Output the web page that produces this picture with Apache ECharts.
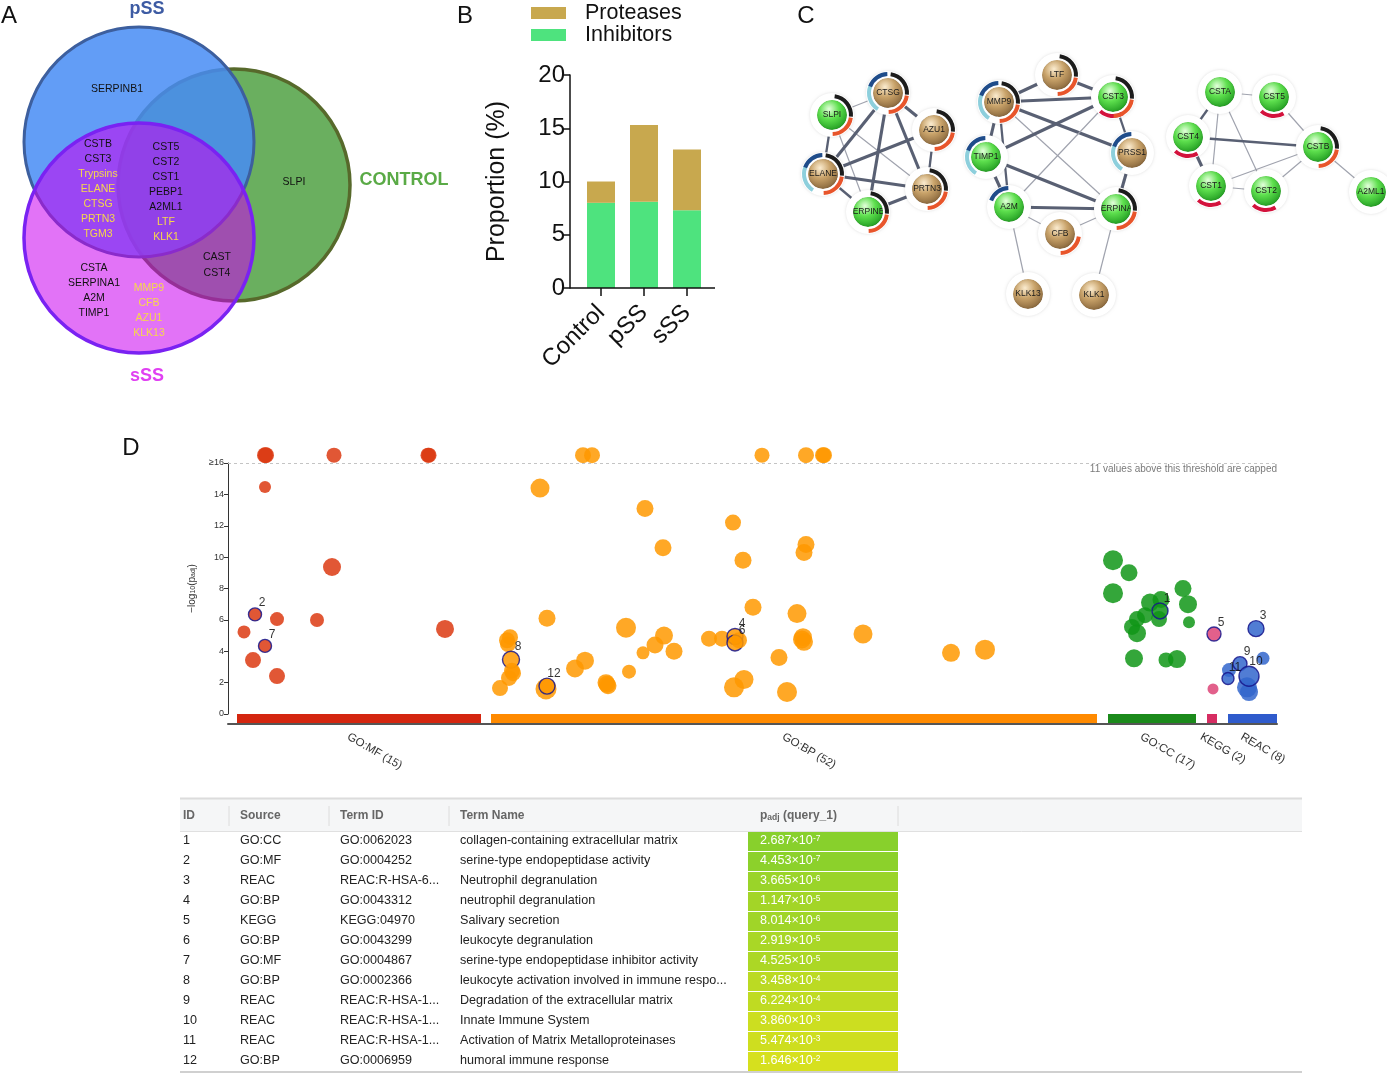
<!DOCTYPE html>
<html><head><meta charset="utf-8">
<script src="https://cdn.jsdelivr.net/npm/echarts@6/dist/echarts.min.js"></script>
<style>html,body{margin:0;padding:0;background:#fff}#c{width:1387px;height:1074px}</style>
</head><body><div id="c"></div><script>
// ================= DATA =================
// Panel A – Venn membership
const vennPSSOnly = ['SERPINB1'];
const vennControlOnly = ['SLPI'];
const vennPSS_SSS = ['CSTB','CST3','Trypsins','ELANE','CTSG','PRTN3','TGM3'];
const vennAllThree = ['CST5','CST2','CST1','PEBP1','A2ML1','LTF','KLK1'];
const vennSSS_Control = ['CAST','CST4'];
const vennSSSOnly = ['CSTA','SERPINA1','A2M','TIMP1','MMP9','CFB','AZU1','KLK13'];
const proteaseGenes = ['Trypsins','ELANE','CTSG','PRTN3','TGM3','LTF','KLK1','MMP9','CFB','AZU1','KLK13','PRSS1'];

// Panel B – stacked bars
const barCategories = ['Control','pSS','sSS'];
const inhibitorValues = [8.0, 8.1, 7.3];
const proteaseValues = [2.0, 7.2, 5.7];

// Panel C – network
const netNodes = ['SLPI','CTSG','AZU1','ELANE','PRTN3','SERPINB1','MMP9','LTF','CST3','TIMP1','PRSS1','A2M','SERPINA1','CFB','KLK13','KLK1','CSTA','CST5','CST4','CSTB','CST1','CST2','A2ML1'];
const netEdges = [
 ['SLPI','CTSG',1],['SLPI','ELANE',2],['SLPI','PRTN3',1],['SLPI','SERPINB1',1],
 ['CTSG','ELANE',3],['CTSG','AZU1',3],['CTSG','PRTN3',3],['CTSG','SERPINB1',3],
 ['AZU1','ELANE',3],['AZU1','PRTN3',2],['ELANE','PRTN3',3],['ELANE','SERPINB1',2],['PRTN3','SERPINB1',3],
 ['MMP9','LTF',3],['MMP9','CST3',3],['MMP9','TIMP1',3],['MMP9','A2M',2],['MMP9','PRSS1',3],['MMP9','SERPINA1',1],
 ['LTF','CST3',3],['CST3','TIMP1',3],['CST3','PRSS1',2],['CST3','A2M',1],
 ['TIMP1','A2M',3],['TIMP1','SERPINA1',3],['PRSS1','SERPINA1',3],
 ['A2M','SERPINA1',3],['A2M','CFB',1],['A2M','KLK13',1],['SERPINA1','CFB',1],['SERPINA1','KLK1',1],
 ['CSTA','CST5',1],['CSTA','CST4',2],['CSTA','CST1',1],['CSTA','CST2',1],['CST5','CSTB',1],
 ['CST4','CSTB',2],['CST4','CST1',3],['CST1','CST2',1],['CST1','CSTB',1],['CST2','CSTB',1],['CSTB','A2ML1',1]
];
const netNodeRings = {SLPI:'KO',CTSG:'LBKO',AZU1:'KO',ELANE:'LBKO',PRTN3:'KO',SERPINB1:'KO',MMP9:'LBKO',LTF:'KO',CST3:'KRO',
 TIMP1:'LB',PRSS1:'LB',A2M:'B',SERPINA1:'KO',CFB:'O',KLK13:'',KLK1:'',CSTA:'',CST5:'R',CST4:'R',CSTB:'KO',CST1:'R',CST2:'R',A2ML1:''};

// Panel D – Manhattan plot points: [position, -log10(padj), term size, highlight id]
const CAPPED = 16.5;
const goMF = [[265,CAPPED,16,0],[266,CAPPED,16,0],[334,CAPPED,15,0],[428,CAPPED,15,0],[429,CAPPED,15,0],
 [265,14.47,12,0],[332,9.37,18,0],[255,6.35,13,2],[277,6.05,14,0],[317,5.99,14,0],[244,5.23,13,0],[445,5.42,18,0],[265,4.34,13,7],[253,3.44,16,0],[277,2.42,16,0]];
const goBP = [[583,CAPPED,16,0],[592,CAPPED,16,0],[762,CAPPED,15,0],[806,CAPPED,16,0],[823,CAPPED,16,0],[824,CAPPED,16,0],
 [540,14.4,19,0],[645,13.1,17,0],[733,12.2,16,0],[663,10.6,17,0],[743,9.8,17,0],[806,10.8,17,0],[804,10.3,17,0],[753,6.8,17,0],
 [547,6.1,17,0],[797,6.4,19,0],[626,5.5,20,0],[510,4.9,16,0],[508,4.45,16,0],[511,3.46,17,8],[512,2.75,16,0],[509,2.3,16,0],
 [500,1.65,16,0],[664,5.0,18,0],[655,4.4,17,0],[674,4.0,17,0],[643,3.9,13,0],[709,4.8,16,0],[722,4.8,16,0],[735,4.94,16,4],
 [735,4.53,16,6],[779,3.6,17,0],[585,3.4,18,0],[575,2.9,18,0],[629,2.7,14,0],[606,2.0,17,0],[608,1.8,17,0],[546,1.6,21,0],
 [547,1.78,16,12],[734,1.7,20,0],[744,2.2,19,0],[787,1.4,20,0],[803,4.9,18,0],[804,4.6,18,0],[863,5.1,19,0],[951,3.9,18,0],
 [985,4.1,20,0],[507,4.7,16,0],[513,2.6,16,0],[739,4.7,16,0],[802,4.75,18,0],[607,1.9,17,0]];
const goCC = [[1113,9.8,20,0],[1129,9.0,17,0],[1113,7.7,20,0],[1183,8.0,17,0],[1188,7.0,18,0],[1150,7.1,18,0],[1161,7.3,17,0],
 [1159,6.05,16,0],[1145,6.3,16,0],[1137,6.05,16,0],[1132,5.55,16,0],[1137,5.15,18,0],[1189,5.85,12,0],[1134,3.55,18,0],
 [1166,3.45,15,0],[1177,3.5,18,0],[1160,6.57,16,1]];
const kegg = [[1213,1.6,11,0],[1214,5.10,14,5]];
const reac = [[1229,2.8,14,0],[1247,1.7,20,0],[1249,1.4,18,0],[1263,3.55,13,0],[1256,5.44,16,3],[1240,3.21,14,9],[1249,2.41,20,10],[1228,2.26,12,11]];
const sourceNames = ['GO:MF','GO:BP','GO:CC','KEGG','REAC'];
const sourceCounts = [15,52,17,2,8];
const sourceStart = [237,491,1108,1207,1228];
const sourceEnd = [481,1097,1196,1217,1277];
const yTickLabels = ['0','2','4','6','8','10','12','14','≥16'];

// Table
const tableIds = [1,2,3,4,5,6,7,8,9,10,11,12];
const tableSources = ['GO:CC','GO:MF','REAC','GO:BP','KEGG','GO:BP','GO:MF','GO:BP','REAC','REAC','REAC','GO:BP'];
const tableTermIds = ['GO:0062023','GO:0004252','REAC:R-HSA-6...','GO:0043312','KEGG:04970','GO:0043299','GO:0004867','GO:0002366','REAC:R-HSA-1...','REAC:R-HSA-1...','REAC:R-HSA-1...','GO:0006959'];
const tableTermNames = ['collagen-containing extracellular matrix','serine-type endopeptidase activity','Neutrophil degranulation','neutrophil degranulation','Salivary secretion','leukocyte degranulation','serine-type endopeptidase inhibitor activity','leukocyte activation involved in immune respo...','Degradation of the extracellular matrix','Innate Immune System','Activation of Matrix Metalloproteinases','humoral immune response'];
const tablePMantissa = ['2.687','4.453','3.665','1.147','8.014','2.919','4.525','3.458','6.224','3.860','5.474','1.646'];
const tablePExponent = [-7,-7,-6,-5,-6,-5,-5,-4,-4,-3,-3,-2];

// ================= STYLE / LAYOUT =================
const FONT = 'Liberation Sans, Arial, sans-serif';
const sourceColors = ['#dc3912','#ff9900','#109618','#dd4477','#3366cc'];
const sourceBarColors = ['#d4260f','#ff8a00','#1b8a1b','#d62d62','#2f5bcc'];
const protColor = '#c8a84e', inhColor = '#4ee37e';
const ringDefs = {K:{s:8,e:95,c:'#1c1c1c'},O:{s:98,e:178,c:'#e8552b'},R:{s:150,e:222,c:'#d3123c'},B:{s:290,e:358,c:'#1f4c8a'},L:{s:212,e:292,c:'#8dcfdc'}};
const netLayout = {SLPI:[832,115],CTSG:[888,93],AZU1:[934,130],ELANE:[823,174],PRTN3:[927,189],SERPINB1:[868,212],
 MMP9:[999,102],LTF:[1057,75],CST3:[1113,97],TIMP1:[986,157],PRSS1:[1132,153],A2M:[1009,207],SERPINA1:[1116,209],CFB:[1060,234],KLK13:[1028,294],KLK1:[1094,295],
 CSTA:[1220,92],CST5:[1274,97],CST4:[1188,137],CSTB:[1318,147],CST1:[1211,186],CST2:[1266,191],A2ML1:[1371,192]};
const greenGrad = {type:'radial',x:0.4,y:0.3,r:0.75,colorStops:[{offset:0,color:'#e4ffdc'},{offset:0.45,color:'#5ee04e'},{offset:1,color:'#1f9a20'}]};
const tanGrad = {type:'radial',x:0.4,y:0.3,r:0.75,colorStops:[{offset:0,color:'#fbecd0'},{offset:0.45,color:'#c9a36a'},{offset:1,color:'#86643a'}]};

const graphics = [];
function txt(x, y, text, st, z) {
  graphics.push({type:'text', x:x, y:y, z:z||20, silent:true,
    style:Object.assign({text:text, align:'center', verticalAlign:'middle', fill:'#111', font:'10.5px ' + FONT}, st||{})});
}
// panel letters
txt(9,16,'A',{font:'24px '+FONT}); txt(465,16,'B',{font:'24px '+FONT});
txt(806,16,'C',{font:'24px '+FONT}); txt(131,448,'D',{font:'24px '+FONT});

// Venn circles
const vennCircles = [
  {cx:234,cy:185,r:116,fill:'rgb(106,175,95)',stroke:'#57692b',lw:3.5},
  {cx:139,cy:142,r:115,fill:'rgba(70,140,245,0.85)',stroke:'#3d5f9e',lw:3},
  {cx:139,cy:238,r:115,fill:'rgba(202,0,240,0.55)',stroke:'#7a22f2',lw:3.5}
];
vennCircles.forEach((c,i)=>graphics.push({type:'circle',z:1+i,silent:true,shape:{cx:c.cx,cy:c.cy,r:c.r},style:{fill:c.fill,stroke:c.stroke,lineWidth:c.lw}}));
txt(147,9,'pSS',{font:'bold 18px '+FONT,fill:'#3d5ba3'});
txt(404,180,'CONTROL',{font:'bold 18px '+FONT,fill:'#5aaa46'});
txt(147,376,'sSS',{font:'bold 18px '+FONT,fill:'#e040f2'});
function vennColumn(list, x, y, dy) {
  list.forEach((g,i)=>txt(x, y+i*dy, g, {fill: proteaseGenes.includes(g) ? '#f7d84a' : '#111'}));
}
vennColumn(vennPSSOnly,117,89,15);
vennColumn(vennControlOnly,294,182,15);
vennColumn(vennPSS_SSS,98,144,15);
vennColumn(vennAllThree,166,147,15);
vennColumn(vennSSS_Control,217,257,16);
vennColumn(vennSSSOnly.filter(g=>!proteaseGenes.includes(g)),94,268,15);
vennColumn(vennSSSOnly.filter(g=>proteaseGenes.includes(g)),149,288,15);

// bar chart x axis line
graphics.push({type:'line',z:5,silent:true,shape:{x1:570,y1:288,x2:715,y2:288},style:{stroke:'#111',lineWidth:1.5}});

// capped note
txt(1277,469,'11 values above this threshold are capped',{align:'right',fill:'#7a7a7a',font:'10px '+FONT});

// Table
const TF = '12.6px ' + FONT;
const colX = [183,240,340,460,760];
const sepX = [229,329,449,898];
graphics.push({type:'rect',z:1,silent:true,shape:{x:180,y:799,width:1122,height:33},style:{fill:'#f5f6f7'}});
graphics.push({type:'line',z:2,silent:true,shape:{x1:180,y1:798.5,x2:1302,y2:798.5},style:{stroke:'#dcdcdc',lineWidth:2}});
graphics.push({type:'line',z:2,silent:true,shape:{x1:180,y1:831.5,x2:1302,y2:831.5},style:{stroke:'#e0e0e0',lineWidth:1}});
graphics.push({type:'line',z:2,silent:true,shape:{x1:180,y1:1072,x2:1302,y2:1072},style:{stroke:'#d0d0d0',lineWidth:2}});
sepX.forEach(x=>graphics.push({type:'line',z:2,silent:true,shape:{x1:x,y1:806,x2:x,y2:826},style:{stroke:'#dcdcdc',lineWidth:1}}));
const hdrStyle = {align:'left',fill:'#666',font:'bold 12px '+FONT};
txt(colX[0],816,'ID',hdrStyle); txt(colX[1],816,'Source',hdrStyle); txt(colX[2],816,'Term ID',hdrStyle); txt(colX[3],816,'Term Name',hdrStyle);
txt(colX[4],816,'{a|p}{s|adj}{a| (query_1)}',{align:'left',fill:'#666',rich:{a:{fontSize:12,fontWeight:'bold',fontFamily:FONT,fill:'#666'},s:{fontSize:8.5,fontWeight:'bold',fontFamily:FONT,fill:'#666',verticalAlign:'bottom'}}});
const nlp = tablePExponent.map((e,i)=>-(Math.log10(parseFloat(tablePMantissa[i]))+e));
const nlpMax = Math.max(...nlp), nlpMin = Math.min(...nlp);
const cStrong = [136,208,44], cWeak = [214,224,30];
tableIds.forEach((id,i)=>{
  const y = 841 + i*20;
  const t = (nlpMax - nlp[i])/(nlpMax - nlpMin);
  const col = cStrong.map((v,k)=>Math.round(v + (cWeak[k]-v)*t));
  graphics.push({type:'rect',z:2,silent:true,shape:{x:748,y:832+i*20,width:150,height:19},style:{fill:'rgb('+col.join(',')+')'}});
  const rs = {align:'left',fill:'#222',font:TF};
  txt(colX[0],y,String(id),rs); txt(colX[1],y,tableSources[i],rs); txt(colX[2],y,tableTermIds[i],rs); txt(colX[3],y,tableTermNames[i],rs);
  txt(colX[4],y,'{a|'+tablePMantissa[i]+'×10}{e|'+tablePExponent[i]+'}',{align:'left',rich:{a:{fontSize:12.6,fontFamily:FONT,fill:'#fff'},e:{fontSize:8.5,fontFamily:FONT,fill:'#fff',verticalAlign:'top'}}});
});

// ================= CHART =================
function pointItem(p){
  const it = {value:[p[0],p[1]], symbolSize:p[2]};
  if (p[3]) { it.itemStyle = {borderColor:'#17168c', borderWidth:1.4}; it.label = {show:true, formatter:String(p[3])}; }
  return it;
}
const sourceData = [goMF, goBP, goCC, kegg, reac];
const scatterSeries = sourceData.map((pts,i)=>({
  type:'scatter', name:sourceNames[i], xAxisIndex:1, yAxisIndex:1, clip:false, z:3,
  data: pts.map(pointItem),
  itemStyle:{color:sourceColors[i], opacity:0.85},
  label:{show:false, position:'top', distance:0, offset:[7,2], color:'#111', fontSize:12, fontFamily:FONT},
  emphasis:{disabled:true},
  markLine: i===0 ? {silent:true, symbol:'none', data:[{yAxis:16}], label:{show:false}, lineStyle:{type:[3,3], color:'#c4c4c4', width:1}} : undefined
}));

const option = {
  animation:false,
  textStyle:{fontFamily:FONT},
  legend:{data:['Proteases','Inhibitors'], orient:'vertical', left:526, top:-3, itemWidth:35, itemHeight:12, itemGap:0,
    selectedMode:false, icon:'rect', textStyle:{fontSize:21.5, color:'#111', lineHeight:19, padding:[0,0,0,14]}},
  grid:[
    {left:579.5, top:75, width:129, height:213},
    {left:228, top:463, width:1049, height:251},
    {left:0, top:0, width:1387, height:1074}
  ],
  xAxis:[
    {gridIndex:0, type:'category', data:barCategories, axisLine:{show:false},
     axisTick:{show:true, alignWithLabel:true, length:8, lineStyle:{color:'#111', width:1.5}},
     axisLabel:{rotate:45, fontSize:24, color:'#111', margin:21, interval:0}},
    {gridIndex:1, type:'value', min:228, max:1277, offset:10, axisLine:{show:true, onZero:false, lineStyle:{color:'#555', width:2}},
     axisTick:{show:false}, axisLabel:{show:false}, splitLine:{show:false}},
    {gridIndex:2, type:'value', min:0, max:1387, show:false}
  ],
  yAxis:[
    {gridIndex:0, type:'value', min:0, max:20, interval:5, offset:9.5,
     axisLine:{show:true, onZero:false, lineStyle:{color:'#111', width:1.5}}, axisTick:{show:true, length:8, lineStyle:{color:'#111', width:1.5}},
     axisLabel:{fontSize:24, color:'#111', margin:5}, splitLine:{show:false},
     name:'Proportion (%)', nameLocation:'middle', nameRotate:90, nameGap:60, nameTextStyle:{fontSize:25, color:'#111'}},
    {gridIndex:1, type:'value', min:0, max:16, interval:2,
     axisLine:{show:true, onZero:false, lineStyle:{color:'#333', width:1}}, axisTick:{show:true, length:4, lineStyle:{color:'#333'}},
     axisLabel:{fontSize:9, color:'#333', margin:4, formatter:(v)=>yTickLabels[v/2]}, splitLine:{show:false},
     name:'{n|−log}{s|10}{n|(p}{s|adj}{n|)}', nameLocation:'middle', nameRotate:90, nameGap:31,
     nameTextStyle:{rich:{n:{fontSize:10, color:'#333', fontFamily:FONT}, s:{fontSize:7, color:'#333', fontFamily:FONT, verticalAlign:'bottom'}}}},
    {gridIndex:2, type:'value', min:0, max:1074, inverse:true, show:false}
  ],
  series:[
    {type:'bar', name:'Inhibitors', stack:'p', data:inhibitorValues, xAxisIndex:0, yAxisIndex:0, barWidth:28, itemStyle:{color:inhColor}, emphasis:{disabled:true}},
    {type:'bar', name:'Proteases', stack:'p', data:proteaseValues, xAxisIndex:0, yAxisIndex:0, barWidth:28, itemStyle:{color:protColor}, emphasis:{disabled:true}},
    ...scatterSeries,
    {type:'custom', xAxisIndex:1, yAxisIndex:1, z:2, silent:true,
     data: sourceNames.map((s,i)=>[sourceStart[i], sourceEnd[i], i]),
     encode:{x:[0,1]},
     renderItem:(params, api)=>{
       const i = api.value(2);
       const p0 = api.coord([api.value(0), 0]);
       const p1 = api.coord([api.value(1), 0]);
       return {type:'group', children:[
         {type:'rect', shape:{x:p0[0], y:p0[1], width:p1[0]-p0[0], height:9}, style:{fill:sourceBarColors[i]}},
         {type:'text', x:(p0[0]+p1[0])/2 - 11, y:p0[1]+22, rotation:-Math.PI/6,
          style:{text:sourceNames[i]+' ('+sourceCounts[i]+')', fill:'#333', font:'11.5px '+FONT, align:'left', verticalAlign:'middle'}}
       ]};
     }},
    {type:'graph', coordinateSystem:'cartesian2d', xAxisIndex:2, yAxisIndex:2, z:3, symbolSize:30,
     data: netNodes.map(n=>({name:n, value:netLayout[n], itemStyle:{color: proteaseGenes.includes(n) ? tanGrad : greenGrad}})),
     links: netEdges.map(e=>({source:e[0], target:e[1], lineStyle:{width:[0,1.2,2.3,3.1][e[2]], color:e[2]===1?'#a0a3ae':'#596073'}})),
     label:{show:true, position:'inside', fontSize:8.5, color:'#1a1a1a', fontFamily:FONT},
     lineStyle:{opacity:1, curveness:0}, emphasis:{disabled:true}, silent:true},
    {type:'custom', xAxisIndex:2, yAxisIndex:2, z:4, silent:true,
     data: netNodes.map((n,i)=>[netLayout[n][0], netLayout[n][1], i]),
     renderItem:(params, api)=>{
       const c = api.coord([api.value(0), api.value(1)]);
       const rings = netNodeRings[netNodes[api.value(2)]].split('');
       const children = [{type:'ring', shape:{cx:c[0], cy:c[1], r:22, r0:15}, style:{fill:'#fff', shadowBlur:3, shadowColor:'rgba(0,0,0,0.13)'}}];
       rings.forEach(k=>{ const d = ringDefs[k];
         children.push({type:'sector', shape:{cx:c[0], cy:c[1], r0:17, r:21, startAngle:(d.s-90)*Math.PI/180, endAngle:(d.e-90)*Math.PI/180, clockwise:true}, style:{fill:d.c}});
       });
       return {type:'group', children};
     }}
  ],
  graphic: graphics
};
const chart = echarts.init(document.getElementById('c'));
chart.setOption(option);
</script></body></html>
